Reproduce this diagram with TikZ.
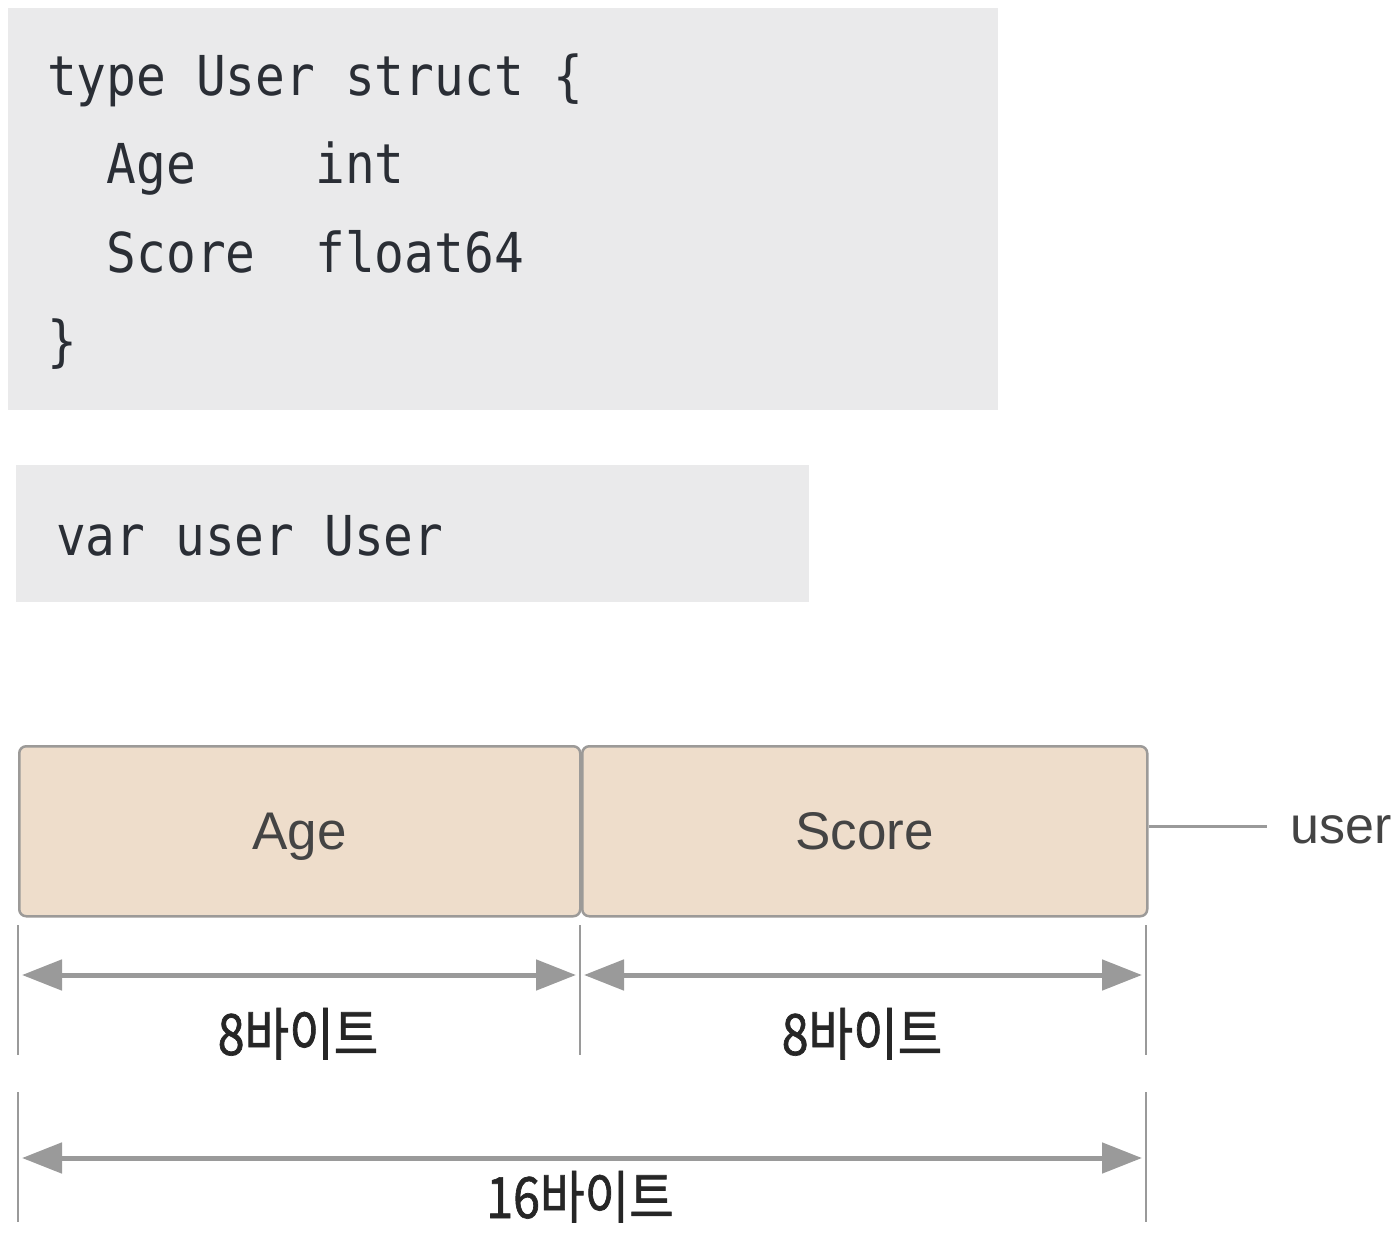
\documentclass[tikz,border=0pt]{standalone}
\usepackage{fontspec}
\setmainfont{Liberation Sans}
\newfontfamily\codefont{DejaVu Sans Mono}[FakeStretch=0.90]
\newfontfamily\krfont{Noto Sans CJK KR}[FakeStretch=0.85,FakeBold=1.2]
\usetikzlibrary{arrows.meta}

\definecolor{codebg}{HTML}{EAEAEB}
\definecolor{codetext}{HTML}{2A2E35}
\definecolor{cellfill}{HTML}{EEDDCB}
\definecolor{cellline}{HTML}{9C9A98}
\definecolor{dimgray}{HTML}{9A9A9A}
\definecolor{labeltext}{HTML}{444444}

\tikzset{
  code/.style={anchor=base west, inner sep=0pt, align=left, text=codetext,
    font=\codefont\fontsize{55}{88.5}\selectfont},
  cell/.style={draw=cellline, line width=2.5pt, fill=cellfill, rounded corners=7pt,
    anchor=north west, minimum height=170pt, text=labeltext,
    text height=40pt, text depth=4pt, font=\fontsize{53}{60}\selectfont},
  tick/.style={draw=dimgray, line width=2.5pt},
  dimline/.style={draw=dimgray, line width=5pt,
    {Triangle[length=40pt,width=30pt]}-{Triangle[length=40pt,width=30pt]}},
  bytes/.style={anchor=base, inner sep=0pt, text=black!85,
    font=\krfont\fontsize{57}{60}\selectfont},
}

\begin{document}
\begin{tikzpicture}[x=1pt,y=-1pt]
\useasboundingbox (0,0) rectangle (1398,1238);

% code boxes
\fill[codebg] (8,8) rectangle (998,410);
\fill[codebg] (16,465) rectangle (809,602);
% base of a multi-line node is its last line
\node[code] (structdef) at (47,361)
  {type User struct \{\\
   \ \ Age\ \ \ \ int\\
   \ \ Score\ \ float64\\
   \}};
\node[code] (vardef) at (56,555) {var user User};

% memory layout
\node[cell, minimum width=561pt] (age) at (18,745) {Age};
\node[cell, minimum width=565pt] (score) at (581,745) {Score};
\node[anchor=base west, inner sep=0pt, text=labeltext,
      font=\fontsize{52}{60}\selectfont] (userlbl) at (1290,843) {user};
\draw[tick] ([yshift=5pt]score.east) -- ++(118,0);

% size marks
\coordinate (t0) at (18,925);
\coordinate (t1) at (580,925);
\coordinate (t2) at (1146,925);
\coordinate (b0) at (18,1092);
\coordinate (b2) at (1146,1092);
\draw[tick] (t0) -- ++(0,130);
\draw[tick] (t1) -- ++(0,130);
\draw[tick] (t2) -- ++(0,130);
\draw[tick] (b0) -- ++(0,130);
\draw[tick] (b2) -- ++(0,130);

\draw[dimline] ([shift={(4,50)}]t0) -- ([shift={(-4,50)}]t1);
\draw[dimline] ([shift={(4,50)}]t1) -- ([shift={(-4,50)}]t2);
\draw[dimline] ([shift={(4,66)}]b0) -- ([shift={(-4,66)}]b2);

\node[bytes] (agesize) at (298,1055) {8바이트};
\node[bytes] (scoresize) at (862,1055) {8바이트};
\node[bytes] (usersize) at (580,1218) {16바이트};
\end{tikzpicture}
\end{document}
